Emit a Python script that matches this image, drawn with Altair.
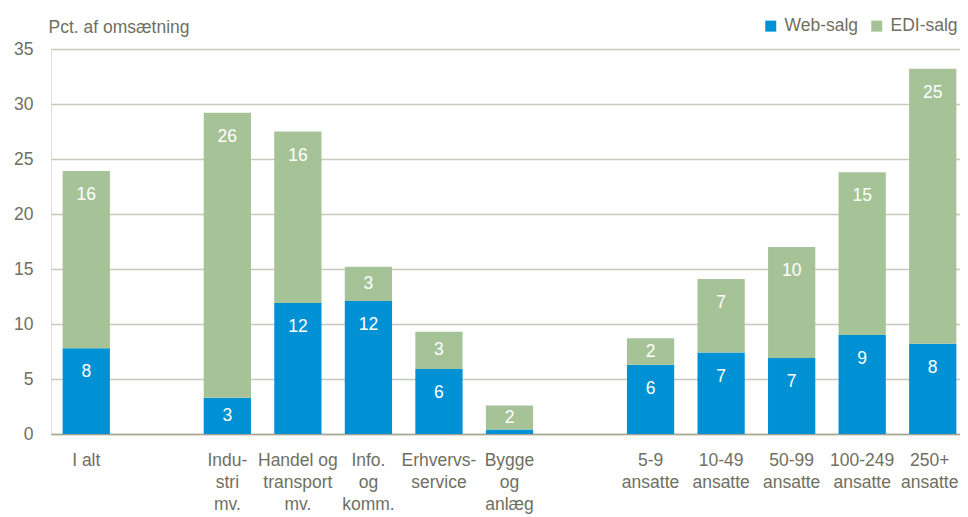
import altair as alt
import pandas as pd

# ---- data ----
categories = ["I alt", "Indu-|stri|mv.", "Handel og|transport|mv.", "Info.|og|komm.",
              "Erhvervs-|service", "Bygge|og|anlæg", "5-9|ansatte", "10-49|ansatte",
              "50-99|ansatte", "100-249|ansatte", "250+|ansatte"]
axis_order = ["I alt", "gap1", "Indu-|stri|mv.", "Handel og|transport|mv.", "Info.|og|komm.",
              "Erhvervs-|service", "Bygge|og|anlæg", "gap2", "5-9|ansatte", "10-49|ansatte",
              "50-99|ansatte", "100-249|ansatte", "250+|ansatte"]
web_salg = [7.8, 3.3, 11.9, 12.1, 5.9, 0.4, 6.3, 7.4, 6.9, 9.0, 8.2]
edi_salg = [16.1, 25.9, 15.6, 3.1, 3.4, 2.2, 2.4, 6.7, 10.1, 14.8, 25.0]
series = ["Web-salg", "EDI-salg"]
colors = ["#0091d4", "#a6c398"]
y_ticks = [0, 5, 10, 15, 20, 25, 30, 35]

rows = []
for i, c in enumerate(categories):
    rows.append({"cat": c, "serie": series[0], "ord": 0, "value": web_salg[i]})
    rows.append({"cat": c, "serie": series[1], "ord": 1, "value": edi_salg[i]})
df = pd.DataFrame(rows)

FONT = "Liberation Sans, Arial, sans-serif"
FS = 17.5
TXT = "#6f6f62"

xscale = alt.Scale(domain=axis_order, paddingInner=0.33, paddingOuter=0.165)
yscale = alt.Scale(domain=[0, 35], nice=False)

base = alt.Chart(df).transform_stack(
    stack="value", groupby=["cat"], sort=[alt.SortField("ord")], as_=["y0", "y1"]
)

bars = base.mark_bar().encode(
    x=alt.X("cat:N", scale=xscale, sort=axis_order,
            axis=alt.Axis(title=None, labelAngle=0, ticks=False,
                          labelExpr="indexof(datum.label,'gap')==0 ? '' : split(datum.label,'|')",
                          labelOffset={"condition": {"test": "datum.value === '250+|ansatte'",
                                                     "value": -3}, "value": 0},
                          labelFont=FONT, labelFontSize=FS, labelColor=TXT,
                          labelPadding=17, labelLineHeight=22, labelBaseline="top",
                          domainColor="#a8a493", domainWidth=1.5, labelOverlap=False)),
    y=alt.Y("y0:Q", scale=yscale,
            axis=alt.Axis(values=y_ticks, title="Pct. af omsætning", titleAngle=0,
                          titleAlign="left", titleBaseline="alphabetic", titleX=-3, titleY=-16.5,
                          titleFont=FONT, titleFontSize=FS, titleFontWeight="normal",
                          titleColor=TXT, domain=False, ticks=False, labelPadding=18,
                          labelFont=FONT, labelFontSize=FS, labelColor=TXT,
                          grid=True, gridColor="#c8c8bd", gridWidth=1.3)),
    y2="y1:Q",
    color=alt.Color("serie:N", scale=alt.Scale(domain=series, range=colors),
                    legend=alt.Legend(title=None, orient="none", legendX=711, legendY=-32,
                                      direction="horizontal", symbolType="square",
                                      symbolSize=121, symbolStrokeWidth=0,
                                      labelFont=FONT, labelFontSize=FS, labelColor=TXT,
                                      columnPadding=9, labelOffset=5, padding=0)),
)

labels = base.transform_filter("datum.value >= 1").transform_calculate(
    ly="max(datum.y1 - 2.2, (datum.y0 + datum.y1) / 2)",
    lbl="format(datum.value, '.0f')",
).mark_text(color="white", font=FONT, fontSize=FS, baseline="middle").encode(
    x=alt.X("cat:N", scale=xscale, sort=axis_order),
    y=alt.Y("ly:Q", scale=yscale),
    text="lbl:N",
)

chart = alt.layer(bars, labels).properties(
    width=917, height=385,
    padding={"left": 43, "top": 41, "right": -8, "bottom": 92},
    autosize=alt.AutoSizeParams(type="none"),
).configure_view(stroke=None).configure(background="white")

chart.save("out.html", embed_options={"renderer": "svg", "actions": False})
